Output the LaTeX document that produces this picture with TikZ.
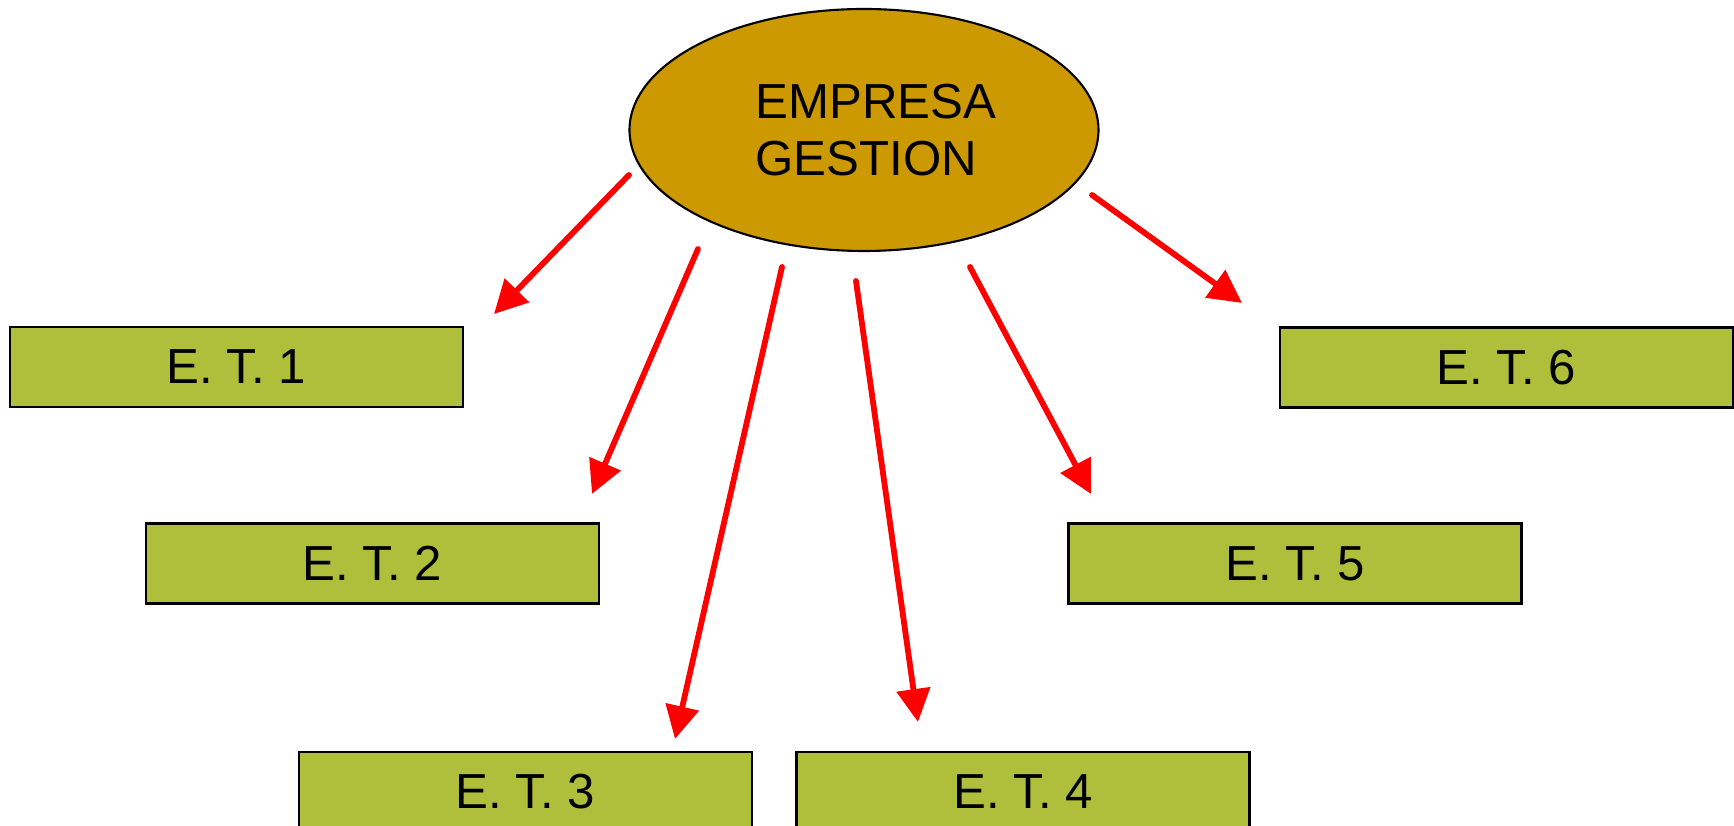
\documentclass[tikz,border=0pt]{standalone}
\usepackage{fontspec}
\setmainfont{Liberation Sans}
\usetikzlibrary{arrows.meta,shapes.geometric}
\definecolor{gestionfill}{RGB}{204,153,0}
\definecolor{etfill}{RGB}{176,191,59}

\begin{document}
\begin{tikzpicture}[
	gestion/.style={ellipse, draw=black, fill=gestionfill, line width=0.6pt, minimum width=4.69cm, minimum height=2.42cm, inner sep=0pt, align=left, font=\fontsize{14}{16}\selectfont},
	etbox/.style={rectangle, draw=black, fill=etfill, line width=0.6pt, minimum width=4.53cm, minimum height=0.80cm, inner sep=0pt, font=\fontsize{14}{16}\selectfont},
	redarrow/.style={draw=red, line width=1.65pt, line cap=round, -{Triangle[length=0.33cm,width=0.33cm]}},
]
\useasboundingbox (0,0) rectangle (17.34,8.26);

\node[gestion] (empresa) at (8.64,6.96) {\hspace*{0.24cm}EMPRESA\\ \hspace*{0.24cm}GESTION};

\node[etbox] (et1) at (2.365,4.59) {E. T. 1};
\node[etbox] (et2) at (3.725,2.625) {E. T. 2};
\node[etbox] (et3) at (5.255,0.34) {E. T. 3};
\node[etbox] (et4) at (10.23,0.34) {E. T. 4};
\node[etbox] (et5) at (12.95,2.625) {E. T. 5};
\node[etbox] (et6) at (15.065,4.585) {E. T. 6};

% arrow ends
\coordinate (from1) at (6.29,6.51);
\coordinate (from2) at (6.98,5.77);
\coordinate (from3) at (7.82,5.59);
\coordinate (from4) at (8.56,5.45);
\coordinate (from5) at (9.70,5.59);
\coordinate (from6) at (10.92,6.31);
\coordinate (to1) at (4.94,5.12);
\coordinate (to2) at (5.92,3.32);
\coordinate (to3) at (6.75,0.87);
\coordinate (to4) at (9.18,1.04);
\coordinate (to5) at (10.91,3.32);
\coordinate (to6) at (12.42,5.23);

\draw[redarrow](from1)--(to1);
\draw[redarrow](from2)--(to2);
\draw[redarrow](from3)--(to3);
\draw[redarrow](from4)--(to4);
\draw[redarrow](from5)--(to5);
\draw[redarrow](from6)--(to6);

\end{tikzpicture}
\end{document}
